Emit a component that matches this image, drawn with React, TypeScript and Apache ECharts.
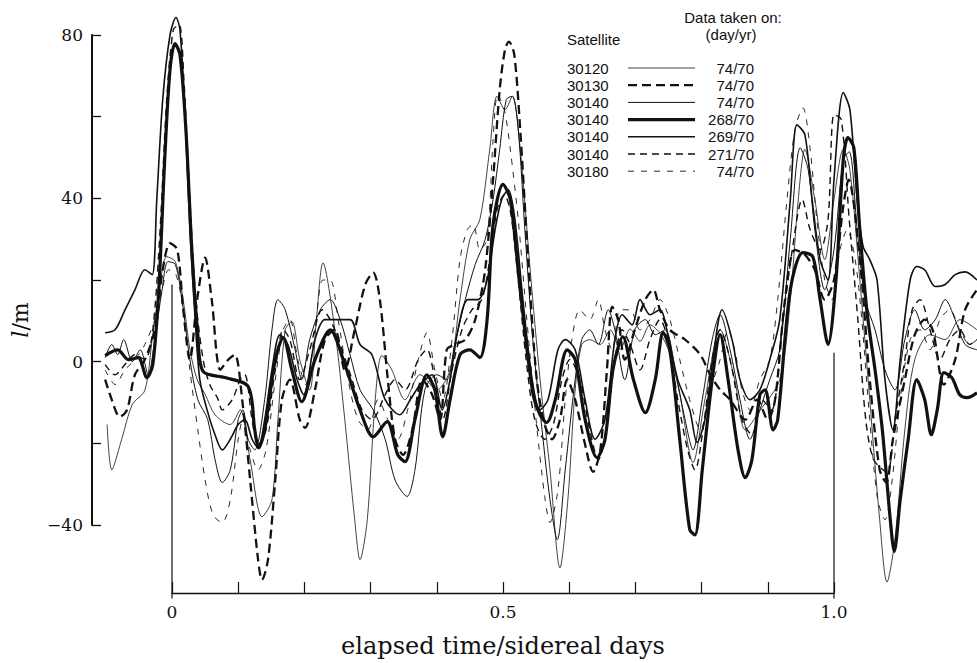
import React, { useEffect, useRef } from 'react';
import * as echarts from 'echarts';

// ---- data (x: elapsed time / sidereal days, y: l/m) ----
const yLabelValues = [80, 40, 0, -40];
const xLabelValues = [0, 0.5, 1.0];
const xLabelTexts = ['0', '0.5', '1.0'];

const satellites = ['30120', '30130', '30140', '30140', '30140', '30140', '30180'];
const dates = ['74/70', '74/70', '74/70', '268/70', '269/70', '271/70', '74/70'];

const s30120_074 = [[-0.098,-15.4],[-0.091,-26.5],[-0.076,-19],[-0.06,-10.5],[-0.041,-7],[-0.03,5.4],[-0.018,19],[-0.008,25.7],[0.005,24.5],[0.017,15],[0.027,3],[0.038,-4.4],[0.05,-8],[0.065,-13],[0.088,-15.4],[0.103,-11.8],[0.118,-24],[0.136,-38],[0.151,-33.8],[0.16,-14.2],[0.171,7.8],[0.181,9.8],[0.193,0.5],[0.208,-6.9],[0.218,10],[0.228,24.2],[0.246,7.8],[0.261,-14.2],[0.276,-38.7],[0.284,-48.5],[0.295,-38.7],[0.307,-9.3],[0.317,1.5],[0.332,-2],[0.352,-9.3],[0.375,-3.2],[0.4,-6.9],[0.42,-2],[0.435,15.2],[0.45,30],[0.465,34.8],[0.48,52],[0.491,65],[0.503,61.7],[0.514,65],[0.526,52],[0.541,22.5],[0.556,-4.4],[0.571,-26.5],[0.586,-50.5],[0.598,-33.8],[0.609,-6.9],[0.619,4.2],[0.631,5.4],[0.647,4.2],[0.662,7.8],[0.677,3],[0.692,8],[0.707,5],[0.722,9],[0.737,7],[0.752,2],[0.767,-8],[0.787,-24.7],[0.805,-9.3],[0.828,7.8],[0.85,-4.4],[0.866,-16.7],[0.888,-12],[0.918,-4.4],[0.934,15.2],[0.946,39.7],[0.956,52],[0.971,39.7],[0.986,25],[1.0,39.7],[1.014,52],[1.024,47],[1.039,20],[1.054,-9.3],[1.069,-38.7],[1.08,-54],[1.092,-43.6],[1.107,-16.7],[1.122,0.5],[1.145,6.6],[1.168,5.4],[1.19,10.3],[1.216,7.8]];

const s30130_074 = [[-0.101,-4.4],[-0.091,-9.3],[-0.079,-13.5],[-0.068,-11.8],[-0.056,-3.2],[-0.041,0.5],[-0.026,7.8],[-0.014,22.5],[-0.003,29],[0.008,27.4],[0.017,12.7],[0.027,0.5],[0.038,15.2],[0.05,25.5],[0.06,15.2],[0.073,-2],[0.085,0.5],[0.095,1.7],[0.106,-9.3],[0.118,-28.9],[0.13,-48.5],[0.136,-53.4],[0.145,-48.5],[0.156,-28.9],[0.166,-9.3],[0.178,-4.4],[0.193,-14.2],[0.201,-16.2],[0.216,-6.9],[0.231,5.4],[0.246,7.8],[0.261,-2],[0.276,7.8],[0.292,18.9],[0.304,21.8],[0.314,15.2],[0.326,-4.4],[0.337,-19],[0.349,-22.8],[0.363,-16.7],[0.378,-4.4],[0.393,-8.1],[0.405,-14.2],[0.415,2.9],[0.427,4.2],[0.443,5.4],[0.458,10.3],[0.473,22.5],[0.485,44.6],[0.495,66.6],[0.503,76.4],[0.509,78.4],[0.517,75.2],[0.526,56.8],[0.538,25],[0.551,-4.4],[0.563,-15.4],[0.574,-19],[0.586,-14.2],[0.597,-4.4],[0.609,-9.3],[0.624,-20.3],[0.636,-27],[0.647,-21.6],[0.657,-2],[0.665,13.5],[0.674,10.3],[0.684,0.5],[0.699,7.8],[0.715,15.2],[0.727,17.6],[0.737,12.7],[0.752,7.8],[0.775,5.4],[0.798,1.7],[0.813,-3.2],[0.828,-6.9],[0.843,-9.3],[0.866,-14.2],[0.884,-9.3],[0.9,-14.2],[0.911,-9.3],[0.926,15.2],[0.941,27.4],[0.956,26.2],[0.971,22.5],[0.986,15.2],[1.0,20],[1.014,38],[1.022,44.6],[1.039,25],[1.054,-4.4],[1.069,-26.5],[1.079,-29.6],[1.089,-19],[1.107,-4.4],[1.122,6.6],[1.137,10.3],[1.149,7.8],[1.166,-5.6],[1.183,0.5],[1.198,12.7],[1.216,17.6]];

const s30140_074 = [[-0.101,1],[-0.091,4.2],[-0.082,1.7],[-0.073,5.4],[-0.06,0],[-0.048,2.9],[-0.036,-3.2],[-0.026,5.4],[-0.015,17.6],[-0.006,24.5],[0.005,23.8],[0.015,15.2],[0.027,0.5],[0.039,-9.3],[0.054,-14.2],[0.065,-24],[0.076,-29.6],[0.088,-26.5],[0.1,-14.2],[0.107,-11.8],[0.115,-19],[0.125,-21.6],[0.14,-9.3],[0.151,7.8],[0.16,15.2],[0.171,12.7],[0.186,2.9],[0.196,-4.4],[0.208,5.4],[0.224,12.7],[0.239,15.2],[0.254,10.3],[0.269,1.7],[0.284,-6.9],[0.304,-11.8],[0.322,-19],[0.337,-29],[0.355,-33],[0.367,-26.5],[0.382,-6.9],[0.4,-3.2],[0.415,-4.4],[0.427,4.2],[0.443,15.2],[0.458,23.8],[0.473,29.9],[0.485,39.7],[0.495,52],[0.505,64.2],[0.514,65],[0.523,56.8],[0.533,32.3],[0.545,5.4],[0.559,-16.7],[0.571,-33.8],[0.582,-43.6],[0.594,-26.5],[0.609,-4.4],[0.619,5.4],[0.631,7.8],[0.644,4.2],[0.659,12.7],[0.669,7.8],[0.684,-4.4],[0.699,7.8],[0.715,10.3],[0.73,6.6],[0.745,7.8],[0.76,-2],[0.775,-14.2],[0.787,-21.6],[0.801,-9.3],[0.816,5.4],[0.828,11.5],[0.843,2.9],[0.858,-9.3],[0.873,-19],[0.888,-11.8],[0.903,-4.4],[0.918,2.9],[0.934,30],[0.949,52.4],[0.961,47],[0.971,32.3],[0.986,17.6],[1.0,27.4],[1.014,49.5],[1.023,51.4],[1.035,32.3],[1.047,15.2],[1.062,7.8],[1.077,-2],[1.092,-6.9],[1.107,5.4],[1.122,12.7],[1.137,7.8],[1.153,10.3],[1.168,15.2],[1.183,10.3],[1.198,4.2],[1.216,2.9]];

const s30140_268 = [[-0.101,1.5],[-0.082,2.9],[-0.066,0.5],[-0.051,1.0],[-0.038,-3.9],[-0.029,-0.7],[-0.02,17.6],[-0.011,49.5],[-0.003,71.5],[0.0045,77.9],[0.012,75.2],[0.021,56.8],[0.03,27.4],[0.039,6.6],[0.047,-2.4],[0.08,-3.9],[0.115,-6.1],[0.125,-16.7],[0.131,-21.1],[0.14,-16.7],[0.156,0.5],[0.168,5.9],[0.181,-2.0],[0.196,-9.8],[0.216,0.5],[0.239,7.8],[0.261,-0.7],[0.284,-11.8],[0.304,-18.4],[0.325,-14.7],[0.341,-22.8],[0.352,-24.5],[0.367,-14.2],[0.385,-3.2],[0.397,-6.9],[0.409,-18.4],[0.42,-9.3],[0.435,1.7],[0.45,2.9],[0.465,1.0],[0.476,10.3],[0.485,33.6],[0.5,43.4],[0.511,39.7],[0.526,17.6],[0.545,-7.6],[0.556,-13.0],[0.566,-14.9],[0.579,-9.3],[0.597,2.9],[0.609,0.5],[0.624,-14.2],[0.642,-23.5],[0.654,-19.1],[0.666,-2.0],[0.681,6.1],[0.697,-4.4],[0.715,-12.5],[0.73,-4.4],[0.742,7.1],[0.752,2.9],[0.767,-19.1],[0.782,-41.1],[0.79,-42.4],[0.801,-26.5],[0.816,-4.4],[0.828,6.6],[0.84,-4.4],[0.855,-21.6],[0.866,-28.4],[0.876,-24],[0.888,-8.1],[0.896,-6.9],[0.908,-16.7],[0.915,-14.2],[0.934,17.6],[0.953,26.7],[0.968,25.7],[0.979,15.2],[0.991,4.2],[1.003,20.1],[1.014,49.5],[1.021,54.9],[1.03,52.4],[1.039,32.3],[1.05,12.0],[1.062,-2.0],[1.073,-16.7],[1.085,-38.7],[1.091,-46.5],[1.1,-33.8],[1.112,-19.1],[1.125,-4.4],[1.137,-9.3],[1.147,-17.9],[1.156,-11.8],[1.166,-2.7],[1.178,-3.9],[1.19,-8.1],[1.201,-8.8],[1.216,-7.6]];

const s30140_269 = [[-0.101,7.1],[-0.086,7.8],[-0.071,12.7],[-0.056,17.6],[-0.041,22.5],[-0.03,21.3],[-0.023,39.7],[-0.014,64.2],[-0.003,80],[0.006,84.3],[0.012,81.3],[0.02,59.3],[0.027,32.3],[0.035,10.3],[0.042,-4.4],[0.053,-11.8],[0.065,-17.9],[0.076,-21.6],[0.088,-19],[0.1,-15.4],[0.11,-14.2],[0.121,-19],[0.13,-21.1],[0.14,-14.2],[0.151,-2],[0.163,6.6],[0.175,4.2],[0.189,-4.4],[0.199,-8.1],[0.216,5.4],[0.231,10.3],[0.243,10.3],[0.269,10.3],[0.284,4.2],[0.302,1.7],[0.322,-9.3],[0.344,-13],[0.36,-9.3],[0.375,-5.6],[0.393,-3.2],[0.408,-11.8],[0.42,-4.4],[0.432,7.8],[0.447,15.2],[0.462,15.2],[0.476,20],[0.488,32.3],[0.498,39.7],[0.508,42.1],[0.518,34.8],[0.53,15.2],[0.544,-4.4],[0.556,-11.8],[0.568,-9.3],[0.583,2.9],[0.594,5.4],[0.609,2.9],[0.624,-9.3],[0.639,-19],[0.654,-14.2],[0.669,5.4],[0.68,11.5],[0.695,9],[0.707,15.2],[0.722,11.5],[0.737,12.7],[0.749,6.6],[0.764,-4.4],[0.782,-11.8],[0.793,-19.8],[0.805,-14.2],[0.817,0.5],[0.831,12.7],[0.846,5.4],[0.858,-4.4],[0.873,-9.3],[0.888,-6.9],[0.903,0.5],[0.918,10.3],[0.934,39.7],[0.944,58],[0.956,55.6],[0.967,39.7],[0.979,25],[0.991,20],[1.0,44.6],[1.014,65.9],[1.024,61.7],[1.035,39.7],[1.044,28.2],[1.054,25],[1.065,20],[1.077,-4.4],[1.089,-16.7],[1.1,0.5],[1.115,20],[1.125,23.3],[1.137,22.5],[1.153,18.4],[1.168,18.9],[1.183,21.3],[1.198,22],[1.216,20]];

const s30140_271 = [[-0.101,-0.7],[-0.086,-3.2],[-0.071,-0.7],[-0.056,1.7],[-0.041,0.5],[-0.029,7.8],[-0.018,32.3],[-0.008,64.2],[0.002,81.3],[0.011,82.5],[0.018,69],[0.027,39.7],[0.036,15.2],[0.047,0.5],[0.057,-5.6],[0.069,-9],[0.076,-11.8],[0.091,-9.3],[0.103,-4.4],[0.11,-3.2],[0.121,-14.2],[0.13,-20.3],[0.142,-16.7],[0.156,-2],[0.168,7.8],[0.178,5.4],[0.193,-4.4],[0.208,2.9],[0.227,12.7],[0.239,10.3],[0.254,4.2],[0.272,-4.4],[0.287,-11.8],[0.302,-14.2],[0.322,-8.1],[0.337,-4.4],[0.352,-6.9],[0.372,0.5],[0.385,3],[0.397,-4.4],[0.409,-14.2],[0.423,-2],[0.438,7.8],[0.453,12.7],[0.468,15.2],[0.48,25],[0.491,37.2],[0.502,40.9],[0.512,36],[0.523,20],[0.535,0.5],[0.548,-14.2],[0.563,-19],[0.576,-15.4],[0.589,-4.4],[0.601,0.5],[0.616,-4.4],[0.631,-16.7],[0.644,-24],[0.656,-16.7],[0.669,0.5],[0.68,7.8],[0.692,4.2],[0.707,-2],[0.722,5.4],[0.737,10.3],[0.749,5.4],[0.764,-9.3],[0.779,-21.6],[0.79,-26.5],[0.802,-16.7],[0.816,0.5],[0.828,7.8],[0.843,0.5],[0.861,-14.2],[0.876,-17.9],[0.891,-9.3],[0.906,-11.8],[0.921,7.8],[0.937,27.4],[0.952,39.7],[0.964,32.3],[0.979,27.4],[0.991,34.8],[1.0,60.5],[1.011,59.3],[1.023,34.8],[1.036,10.3],[1.048,-14.2],[1.06,-24],[1.08,-27],[1.092,-14.2],[1.107,0.5],[1.118,12.7],[1.13,15.2],[1.145,7.8],[1.16,0.5],[1.175,5.4],[1.19,7.8],[1.205,4.2],[1.216,5.4]];

const s30180_074 = [[-0.101,-2],[-0.086,-5.6],[-0.071,-2],[-0.056,0.5],[-0.041,4.2],[-0.026,10.3],[-0.015,17.6],[-0.005,22.5],[0.006,21.3],[0.017,12.7],[0.027,-2],[0.039,-16.7],[0.05,-28.9],[0.062,-37.5],[0.076,-39.4],[0.088,-33.8],[0.1,-19],[0.107,-14.2],[0.118,-21.6],[0.13,-26.5],[0.142,-21.6],[0.156,-4.4],[0.168,7.8],[0.178,10.3],[0.19,0.5],[0.202,-5.6],[0.216,7.8],[0.228,20],[0.239,20],[0.251,10.3],[0.266,-4.4],[0.281,-14.2],[0.296,-16.7],[0.311,-9.3],[0.326,-14.2],[0.341,-19],[0.356,-11.8],[0.372,0.5],[0.385,7.1],[0.397,-2],[0.409,-9.3],[0.423,5.4],[0.435,25],[0.446,32.3],[0.455,33.6],[0.465,27.4],[0.476,29.9],[0.485,54.4],[0.492,65.4],[0.502,61.7],[0.511,52],[0.523,34.8],[0.536,10.3],[0.55,-14.2],[0.563,-33],[0.571,-39.4],[0.583,-31.3],[0.594,-9.3],[0.604,5.4],[0.616,12.7],[0.631,10.3],[0.644,15.2],[0.654,7.8],[0.665,2.9],[0.677,12.7],[0.692,12.7],[0.707,7.8],[0.722,10.3],[0.737,15.2],[0.752,10.3],[0.767,0.5],[0.782,-9.3],[0.798,-16.7],[0.813,-6.9],[0.828,0.5],[0.84,7.8],[0.85,2.9],[0.861,-6.9],[0.873,-11.8],[0.888,-4.4],[0.903,0.5],[0.915,15.2],[0.929,39.7],[0.941,56.8],[0.953,62.2],[0.964,52],[0.974,34.8],[0.986,20],[0.997,15.2],[1.009,27.4],[1.02,32.3],[1.032,25],[1.042,10.3],[1.054,-14.2],[1.066,-33.8],[1.077,-38.7],[1.088,-28.9],[1.1,-9.3],[1.115,5.4],[1.13,7.8],[1.145,2.9],[1.16,10.3],[1.175,12.7],[1.19,7.8],[1.205,4.2],[1.216,5.4]];

// vertical day-boundary marks (x in days, y in l/m)
const dayStartMark = [[0, 18.9], [0, -58]];
const dayEndMark = [[1, 2.2], [1, -58]];

// extent of the plotted time range (days) and of the l/m scale
const timeMin = -0.12085;
const timeMax = 1.21601;
const lMin = -40;
const lMax = 80;
const lStep = 20;

const seriesData = [s30120_074, s30130_074, s30140_074, s30140_268, s30140_269, s30140_271, s30180_074];

// ---- styles ----
const INK = '#111111';
const lineStyles: any[] = [
  { width: 0.8, type: 'solid' },
  { width: 2.3, type: [9, 5] },
  { width: 1.0, type: 'solid' },
  { width: 3.2, type: 'solid' },
  { width: 1.6, type: 'solid' },
  { width: 1.4, type: [7, 5] },
  { width: 0.9, type: [6, 7] },
];
const SERIF = "'DejaVu Serif', 'Liberation Serif', serif";
const SANS = "'Liberation Sans', Arial, sans-serif";

function buildOption() {
  const series: any[] = seriesData.map((d, i) => ({
    type: 'line',
    name: satellites[i] + ' ' + dates[i],
    xAxisIndex: 0,
    yAxisIndex: 0,
    data: d,
    showSymbol: false,
    smooth: 0.3,
    clip: false,
    silent: true,
    lineStyle: { color: INK, width: lineStyles[i].width, type: lineStyles[i].type },
    z: i === 3 ? 5 : 3,
  }));
  [dayStartMark, dayEndMark].forEach((d) => {
    series.push({
      type: 'line',
      xAxisIndex: 0,
      yAxisIndex: 0,
      data: d,
      showSymbol: false,
      clip: false,
      silent: true,
      lineStyle: { color: INK, width: 1.2 },
      z: 2,
    });
  });

  const legendTop = 68;
  const rowH = 17.2;
  const txt = (text: string, x: number, y: number, align: string, extra: any = {}) => ({
    type: 'text', x, y,
    style: { text, fontFamily: SANS, fontSize: 15, fill: INK, align, verticalAlign: 'middle', textAlign: align, textVerticalAlign: 'middle', ...extra },
  });
  const graphic: any[] = [
    txt('Satellite', 567, 39, 'left'),
    txt('Data taken on:', 733, 17, 'center'),
    txt('(day/yr)', 731, 34, 'center'),
    {
      type: 'text', x: 20, y: 320, rotation: Math.PI / 2,
      style: { text: '{i|l}/m', fontFamily: SERIF, fontSize: 22, fill: INK, align: 'center', verticalAlign: 'middle', textAlign: 'center', textVerticalAlign: 'middle', rich: { i: { fontStyle: 'italic', fontFamily: SERIF, fontSize: 22 } } },
    },
  ];
  satellites.forEach((s, i) => {
    const y = legendTop + rowH * i;
    graphic.push(txt(s, 567, y, 'left'));
    graphic.push({ type: 'line', shape: { x1: 628, y1: y, x2: 695, y2: y }, style: { stroke: INK, lineWidth: lineStyles[i].width, lineDash: Array.isArray(lineStyles[i].type) ? lineStyles[i].type : null } });
    graphic.push(txt(dates[i], 754, y, 'right'));
  });

  return {
    animation: false,
    backgroundColor: '#ffffff',
    grid: [
      // data area (covers the full time range)
      { left: 92, right: 0, top: 35, bottom: 138, containLabel: false },
      // time axis (0 .. 1 sidereal day)
      { left: 172, right: 143, top: 35, bottom: 64, containLabel: false },
      // l/m axis
      { left: 92, right: 880, top: 35, bottom: 138, containLabel: false },
    ],
    xAxis: [
      { gridIndex: 0, type: 'value', min: timeMin, max: timeMax, show: false },
      {
        gridIndex: 1, type: 'value', min: 0, max: 1, interval: 0.1, position: 'bottom',
        name: 'elapsed time/sidereal days',
        nameLocation: 'middle', nameGap: 41,
        nameTextStyle: { fontFamily: SERIF, fontSize: 24, color: INK },
        axisLine: { show: true, onZero: false, lineStyle: { color: INK, width: 1.4 } },
        axisTick: { show: true, inside: true, length: 11, lineStyle: { color: INK, width: 1.2 } },
        splitLine: { show: false },
        axisLabel: {
          margin: 10, fontFamily: SERIF, fontSize: 17, color: INK,
          formatter: (v: number) => {
            const k = xLabelValues.findIndex((t) => Math.abs(t - v) < 1e-6);
            return k >= 0 ? xLabelTexts[k] : '';
          },
        },
      },
      { gridIndex: 2, type: 'value', min: 0, max: 1, show: false },
    ],
    yAxis: [
      { gridIndex: 0, type: 'value', min: lMin, max: lMax, show: false },
      { gridIndex: 1, type: 'value', min: 0, max: 1, show: false },
      {
        gridIndex: 2, type: 'value', min: lMin, max: lMax, interval: lStep, position: 'left',
        axisLine: { show: true, lineStyle: { color: INK, width: 2 } },
        axisTick: { show: true, inside: true, length: 9, lineStyle: { color: INK, width: 1.3 } },
        splitLine: { show: false },
        axisLabel: {
          margin: 9, fontFamily: SERIF, fontSize: 17, color: INK,
          formatter: (v: number) => {
            if (!yLabelValues.some((t) => Math.abs(t - v) < 1e-6)) return '';
            return v < 0 ? '\u2212' + Math.abs(v) : String(v);
          },
        },
      },
    ],
    graphic,
    series,
  };
}

export default function App() {
  const ref = useRef<HTMLDivElement>(null);
  useEffect(() => {
    if (!ref.current) return;
    const chart = echarts.init(ref.current, undefined, { renderer: 'svg' });
    chart.setOption(buildOption() as any);
    return () => chart.dispose();
  }, []);
  return (
    <div
      ref={ref}
      style={{ position: 'fixed', left: 0, top: 0, width: 977, height: 663, background: '#fff' }}
    />
  );
}
